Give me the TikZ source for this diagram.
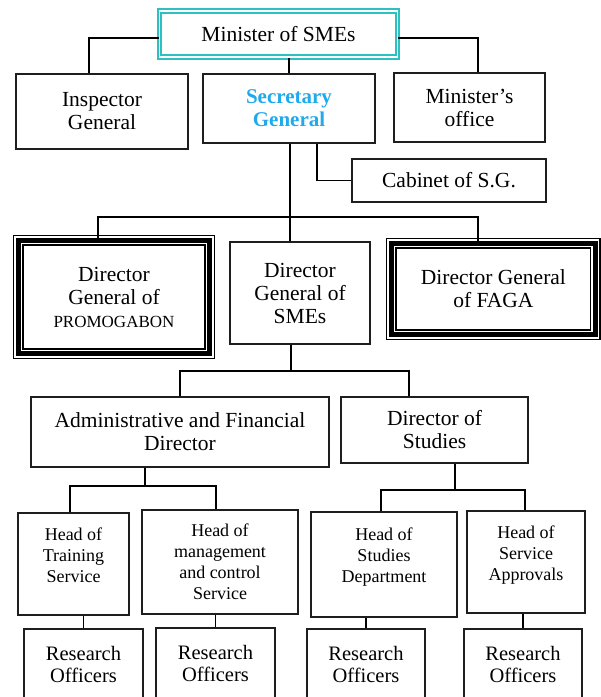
\documentclass[tikz,border=0pt]{standalone}
\usepackage{fontspec}
\setmainfont{Liberation Serif}
\usepackage{tikz}

\definecolor{minteal}{RGB}{45,192,192}
\definecolor{secblue}{RGB}{33,170,235}
\definecolor{boxline}{RGB}{30,30,30}

\newcommand{\lift}{\rule[-18pt]{0pt}{18pt}}

\begin{document}
\begin{tikzpicture}[x=1pt, y=-1pt,
	dept/.style={draw=boxline, line width=1.3pt, inner sep=0pt, align=center, font=\fontsize{21.5}{23}\selectfont},
	smallfont/.style={font=\fontsize{18}{21}\selectfont},
	resfont/.style={font=\fontsize{20.5}{22}\selectfont},
	minbox/.style={dept, draw=minteal, line width=1.6pt, double=white, double distance=1.9pt},
	agency/.style={draw=black, line width=5pt, inner sep=0pt, align=center, font=\fontsize{21.5}{23}\selectfont,
		preaction={draw=black, line width=10.6pt}, preaction={draw=white, line width=8pt}},
	link/.style={draw=black, line width=1.3pt}]
	\path[use as bounding box, clip] (0, 0) rectangle (601, 697);
	\node[minbox, minimum width=238pt, minimum height=46pt] (min) at (278.5, 34) {Minister of SMEs};
	\node[dept, minimum width=172pt, minimum height=75pt] (insp) at (102, 111.5) {Inspector\\General};
	\node[dept, minimum width=172pt, minimum height=69pt, text=secblue, font=\fontsize{21}{23}\selectfont\bfseries] (sec) at (289, 108.5) {Secretary\\General};
	\node[dept, minimum width=151pt, minimum height=69pt] (off) at (469.5, 107.5) {Minister’s\\office};
	\node[dept, minimum width=194pt, minimum height=43pt] (cab) at (449, 180.5) {Cabinet of S.G.};
	\node[agency, minimum width=191.4pt, minimum height=113.4pt] (promo) at (114, 297) {Director\\General of\\{\fontsize{17}{20}\selectfont PROMOGABON}};
	\node[dept, minimum width=140pt, minimum height=102pt] (dgs) at (300, 293) {Director\\General of\\SMEs};
	\node[agency, minimum width=204pt, minimum height=91.4pt] (faga) at (493.4, 289) {Director General\\of FAGA};
	\node[dept, minimum width=298pt, minimum height=70pt] (adm) at (180, 432) {Administrative and Financial\\Director};
	\node[dept, minimum width=187pt, minimum height=66pt] (dst) at (434.5, 430) {Director of\\Studies};
	\node[dept, smallfont, minimum width=111pt, minimum height=102pt] (trn) at (73.5, 564) {Head of\\Training\\Service\lift};
	\node[dept, smallfont, minimum width=156pt, minimum height=104pt] (mgt) at (220, 562) {Head of\\management\\and control\\Service};
	\node[dept, smallfont, minimum width=146pt, minimum height=105pt] (sdp) at (384, 564.5) {Head of\\Studies\\Department\lift};
	\node[dept, smallfont, minimum width=118pt, minimum height=102pt] (sap) at (526, 562) {Head of\\Service\\Approvals\lift};
	\node[dept, resfont, minimum width=119pt, minimum height=70pt] (res1) at (83.5, 664) {Research\\Officers};
	\node[dept, resfont, minimum width=119pt, minimum height=70pt] (res2) at (215.5, 663) {Research\\Officers};
	\node[dept, resfont, minimum width=118pt, minimum height=70pt] (res3) at (366, 664) {Research\\Officers};
	\node[dept, resfont, minimum width=118pt, minimum height=70pt] (res4) at (523, 664) {Research\\Officers};
	\coordinate (bus1) at (290, 217);
	\coordinate (bus2) at (291, 371);
	\coordinate (bus3) at (145, 486);
	\coordinate (bus4) at (455, 490);
	\draw[link] ([yshift=-4pt]min.west) -| ([xshift=-13pt]insp.north)
		(min.south -| sec.north) -- (sec.north)
		([yshift=-4pt]min.east) -| ([xshift=8.5pt]off.north)
		([xshift=28pt]sec.south) |- (cab.west)
		(bus1 |- sec.south) -- (bus1)
		(bus1) -| ([xshift=-16pt]promo.north)
		(bus1) -- (bus1 |- dgs.north)
		(bus1) -| ([xshift=-15.4pt]faga.north)
		(bus2 |- dgs.south) -- (bus2)
		(bus2) -| (adm.north)
		(bus2) -| ([xshift=-25.5pt]dst.north)
		(adm.south -| bus3) -- (bus3)
		(bus3) -| ([xshift=-3.5pt]trn.north)
		(bus3) -| ([xshift=-4pt]mgt.north)
		(dst.south -| bus4) -- (bus4)
		(bus4) -| ([xshift=-3pt]sdp.north)
		(bus4) -| ([xshift=-1pt]sap.north)
		(res1.north |- trn.south) -- (res1.north)
		(res2.north |- mgt.south) -- (res2.north)
		(res3.north |- sdp.south) -- (res3.north)
		(res4.north |- sap.south) -- (res4.north);
\end{tikzpicture}
\end{document}
